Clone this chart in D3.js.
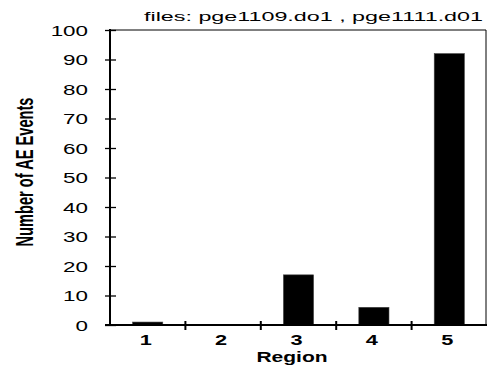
<!DOCTYPE html>
<html>
<head>
<meta charset="utf-8">
<script src="https://cdn.jsdelivr.net/npm/d3@7"></script>
<style>
  html, body { margin: 0; padding: 0; background: #fff; }
  svg { display: block; }
  text { font-family: "Liberation Sans", Arial, sans-serif; fill: #000; }
</style>
</head>
<body>
<div id="chart"></div>
<script>
const regions = ['1', '2', '3', '4', '5'];
const aeEvents = [1, 0, 17, 6, 92];
const yTicks = [0, 10, 20, 30, 40, 50, 60, 70, 80, 90, 100];
const title = 'files: pge1109.do1 , pge1111.d01';

const width = 487;
const height = 369;
const plotLeft = 110, plotRight = 486, plotTop = 30, plotBottom = 325;

const svg = d3.select('#chart')
  .append('svg')
  .attr('width', width)
  .attr('height', height);

const x = d3.scaleBand()
  .domain(regions)
  .range([plotLeft, plotRight + 1])
  .paddingInner(0.6)
  .paddingOuter(0.3);

const y = d3.scaleLinear()
  .domain([0, 100])
  .range([plotBottom, plotTop]);

// widen a text element sideways, the source picture is stretched
function widen(sel, factor) {
  sel.each(function () {
    const w = this.getComputedTextLength();
    d3.select(this)
      .attr('textLength', w * factor)
      .attr('lengthAdjust', 'spacingAndGlyphs');
  });
}

// frame top and right
svg.append('line')
  .attr('x1', plotLeft).attr('x2', plotRight)
  .attr('y1', plotTop).attr('y2', plotTop)
  .attr('stroke', '#000').attr('stroke-width', 1);
svg.append('line')
  .attr('x1', plotRight).attr('x2', plotRight)
  .attr('y1', plotTop).attr('y2', plotBottom)
  .attr('stroke', '#000').attr('stroke-width', 1);

// bars
svg.append('g')
  .selectAll('rect')
  .data(aeEvents)
  .enter()
  .append('rect')
  .attr('x', (d, i) => x(regions[i]))
  .attr('width', x.bandwidth())
  .attr('y', d => y(d))
  .attr('height', d => y(0) - y(d))
  .attr('fill', '#000')
  .attr('stroke', '#444')
  .attr('stroke-width', 0.6);

// y axis
const yAxis = svg.append('g')
  .attr('transform', `translate(${plotLeft},0)`)
  .call(d3.axisLeft(y).tickValues(yTicks).tickSize(5).tickSizeOuter(0).tickPadding(17));
yAxis.select('.domain').attr('stroke', '#000').attr('stroke-width', 2)
  .attr('d', `M0,${plotTop - 1}V${plotBottom}`);
yAxis.selectAll('.tick line')
  .attr('x1', -5).attr('x2', 6)
  .attr('stroke', '#000').attr('stroke-width', 1.3);
yAxis.selectAll('.tick text')
  .attr('font-size', 14)
  .attr('dy', '0.36em')
  .attr('fill', '#111')
  .attr('font-family', '"Liberation Sans", Arial, sans-serif')
  .call(widen, 1.6);

// x axis baseline with ticks at band boundaries
const xAxis = svg.append('g');
xAxis.append('line')
  .attr('x1', plotLeft - 5).attr('x2', plotRight + 1)
  .attr('y1', plotBottom).attr('y2', plotBottom)
  .attr('stroke', '#000').attr('stroke-width', 2);
xAxis.selectAll('.xtick')
  .data(regions.slice(1))
  .enter()
  .append('line')
  .attr('class', 'xtick')
  .attr('x1', d => x(d) - x.step() * x.paddingInner() / 2)
  .attr('x2', d => x(d) - x.step() * x.paddingInner() / 2)
  .attr('y1', plotBottom - 4).attr('y2', plotBottom + 5)
  .attr('stroke', '#000').attr('stroke-width', 2);
xAxis.selectAll('.xlabel')
  .data(regions)
  .enter()
  .append('text')
  .attr('class', 'xlabel')
  .attr('x', d => x(d) + x.bandwidth() / 2 - 2)
  .attr('y', plotBottom + 20)
  .attr('text-anchor', 'middle')
  .attr('font-size', 15)
  .attr('font-weight', 'bold')
  .text(d => d)
  .call(widen, 1.45);

// axis titles
svg.append('text')
  .attr('x', 292)
  .attr('y', 362)
  .attr('text-anchor', 'middle')
  .attr('font-size', 15)
  .attr('font-weight', 'bold')
  .text('Region')
  .call(widen, 1.4);

svg.append('text')
  .attr('transform', 'translate(33,172) rotate(-90)')
  .attr('text-anchor', 'middle')
  .attr('font-size', 23)
  .attr('font-weight', 'bold')
  .attr('font-family', '"Liberation Sans Narrow", "DejaVu Sans Condensed", sans-serif')
  .text('Number of AE Events')
  .attr('textLength', 149)
  .attr('lengthAdjust', 'spacingAndGlyphs');

// title
svg.append('text')
  .attr('x', 144)
  .attr('y', 21)
  .attr('font-size', 12.5)
  .text(title)
  .attr('textLength', 339)
  .attr('lengthAdjust', 'spacingAndGlyphs');
</script>
</body>
</html>
